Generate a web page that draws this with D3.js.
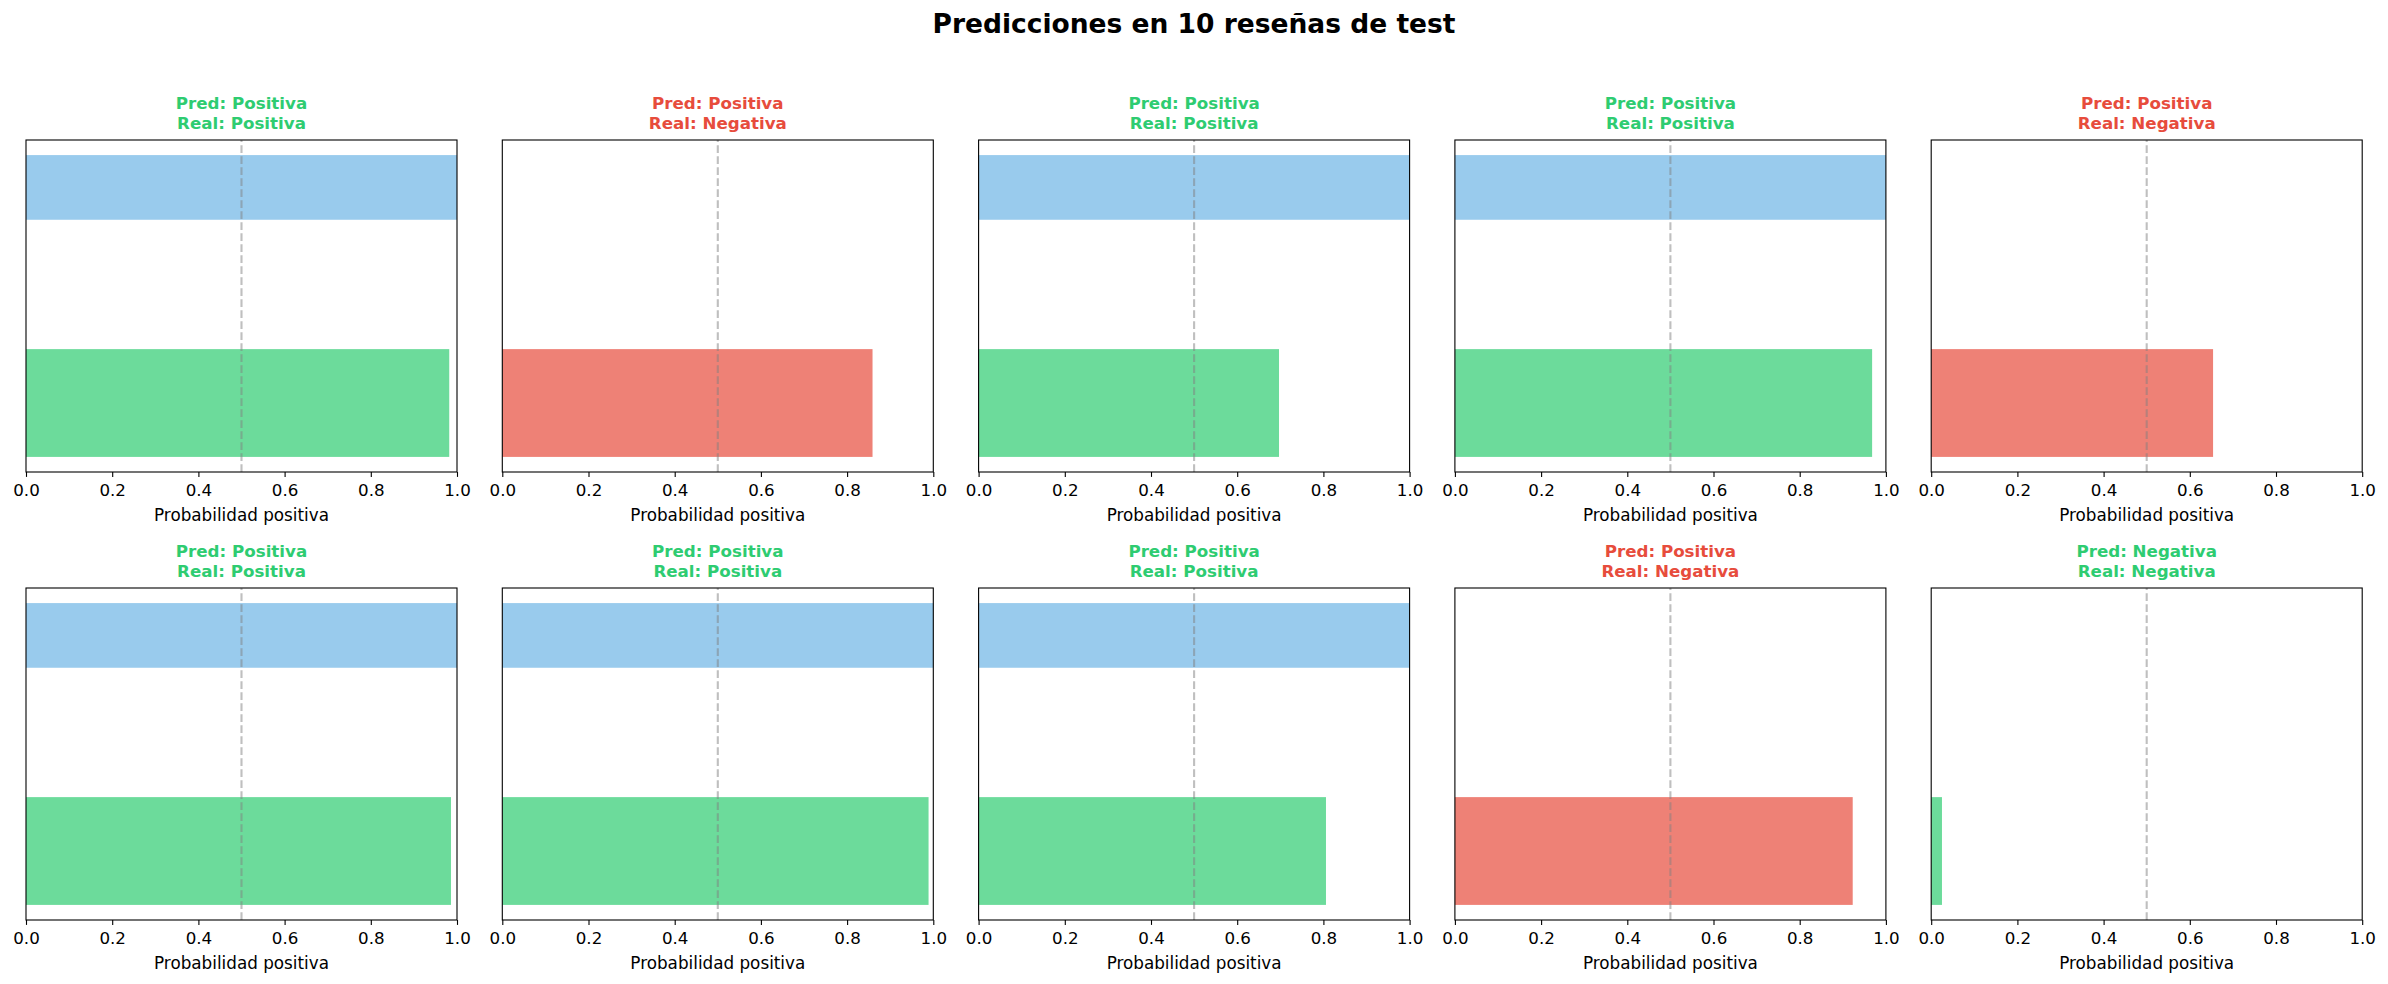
<!DOCTYPE html>
<html>
<head>
<meta charset="utf-8">
<script src="https://cdn.jsdelivr.net/npm/d3@7"></script>
<style>
  body { margin: 0; background: #ffffff; }
  svg { display: block; font-family: "DejaVu Sans", sans-serif; }
</style>
</head>
<body>
<svg id="chart" width="2388" height="984"></svg>
<script>
// Prediction probability for the positive class, one per review
const probs = [0.982, 0.859, 0.697, 0.968, 0.654, 0.986, 0.989, 0.806, 0.923, 0.025];
// True labels (1 = positive, 0 = negative)
const realLabels = [1, 0, 1, 1, 0, 1, 1, 1, 0, 0];
const predNames = ["Positiva", "Positiva", "Positiva", "Positiva", "Positiva",
                   "Positiva", "Positiva", "Positiva", "Positiva", "Negativa"];
const realNames = ["Positiva", "Negativa", "Positiva", "Positiva", "Negativa",
                   "Positiva", "Positiva", "Positiva", "Negativa", "Negativa"];
const xTicks = [0, 0.2, 0.4, 0.6, 0.8, 1.0];
const threshold = 0.5;

const svg = d3.select('#chart');

const panel = {
    width: 431,
    height: 332,
    left: 26,
    stepX: 476.3,
    tops: [140, 588]
};

const colors = {
    real: '#3498db',
    ok: '#2ecc71',
    bad: '#e74c3c'
};

svg.append('text')
    .attr('x', 1194)
    .attr('y', 32.5)
    .attr('text-anchor', 'middle')
    .style('font-size', '26.5px')
    .style('font-weight', 'bold')
    .text('Predicciones en 10 reseñas de test');

let x = d3.scaleLinear().domain([0, 1]).range([0, panel.width]);
// matplotlib autoscale of bars at y=0 (h 0.5) and y=1 (h 0.3) plus 5% margin
let y = d3.scaleLinear().domain([-0.32, 1.22]).range([panel.height, 0]);

probs.forEach((p, i) => {
    let col = i % 5, row = Math.floor(i / 5);
    let g = svg.append('g')
        .attr('transform', `translate(${panel.left + col * panel.stepX},${panel.tops[row]})`);

    let correct = predNames[i] === realNames[i];
    let color = correct ? colors.ok : colors.bad;

    // real label bar (top)
    g.append('rect')
        .attr('x', x(0))
        .attr('y', y(1 + 0.15))
        .attr('width', x(realLabels[i]) - x(0))
        .attr('height', y(1 - 0.15) - y(1 + 0.15))
        .attr('fill', colors.real)
        .attr('fill-opacity', 0.5);

    // predicted probability bar (bottom)
    g.append('rect')
        .attr('x', x(0))
        .attr('y', y(0.25))
        .attr('width', x(p) - x(0))
        .attr('height', y(-0.25) - y(0.25))
        .attr('fill', color)
        .attr('fill-opacity', 0.7);

    // threshold line
    g.append('line')
        .attr('x1', x(threshold)).attr('x2', x(threshold))
        .attr('y1', panel.height).attr('y2', 0)
        .attr('stroke', 'gray')
        .attr('stroke-opacity', 0.5)
        .attr('stroke-width', 2.1)
        .attr('stroke-dasharray', '7.7,3.3');

    // frame
    g.append('rect')
        .attr('width', panel.width)
        .attr('height', panel.height)
        .attr('fill', 'none')
        .attr('stroke', 'black')
        .attr('stroke-width', 1.1);

    let axis = d3.axisBottom(x)
        .tickValues(xTicks)
        .tickFormat(d3.format('.1f'))
        .tickSizeOuter(0)
        .tickSizeInner(4.9)
        .tickPadding(7.2);

    let ax = g.append('g')
        .attr('transform', `translate(0,${panel.height})`)
        .call(axis);
    ax.select('.domain').remove();
    ax.selectAll('.tick line').attr('stroke', 'black').attr('stroke-width', 1.1);
    ax.selectAll('.tick text')
        .attr('fill', 'black')
        .style('font-size', '16.7px')
        .style('font-family', '"DejaVu Sans", sans-serif');

    g.append('text')
        .attr('x', panel.width / 2)
        .attr('y', panel.height + 48.5)
        .attr('text-anchor', 'middle')
        .style('font-size', '16.8px')
        .text('Probabilidad positiva');

    // two-line title
    let title = g.append('text')
        .attr('text-anchor', 'middle')
        .style('font-size', '16.7px')
        .style('font-weight', 'bold')
        .attr('fill', color);
    title.append('tspan')
        .attr('x', panel.width / 2).attr('y', -31)
        .text('Pred: ' + predNames[i]);
    title.append('tspan')
        .attr('x', panel.width / 2).attr('y', -11)
        .text('Real: ' + realNames[i]);
});
</script>
</body>
</html>
